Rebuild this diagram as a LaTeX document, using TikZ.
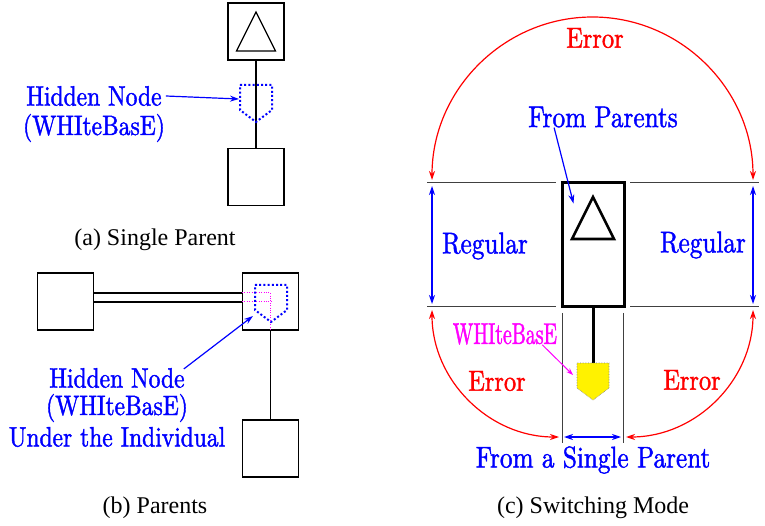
\documentclass[tikz,border=0pt]{standalone}
\usepackage{fontspec}
\setmainfont{Liberation Serif}
\newfontfamily\labelFont[FakeStretch=0.84,FakeBold=1.4]{lmroman10-regular.otf}
\newfontfamily\tagFont[FakeStretch=0.66,FakeBold=1.4]{lmroman10-regular.otf}
\usepackage{tikz}
\usetikzlibrary{positioning,arrows.meta}
\definecolor{guideGray}{RGB}{64,64,64}
\definecolor{tagMagenta}{RGB}{255,0,255}
\tikzstyle{panel} = [x = 1pt, y = -1pt]
\tikzstyle{personBox} = [draw=black, line width=1.2pt, minimum width=56pt, minimum height=57pt, inner sep=0pt]
\tikzstyle{childLine} = [draw=black, line width=1.2pt]
\tikzstyle{hiddenLine} = [draw=blue, line width=2pt, dash pattern=on 2pt off 2.2pt]
\tikzstyle{bridgeLine} = [draw=tagMagenta, line width=1pt, dash pattern=on 1pt off 1.4pt]
\tikzstyle{guideLine} = [draw=guideGray, line width=1pt]
\tikzstyle{blueArrow} = [draw=blue, line width=1.2pt, -{Stealth[length=9pt,width=6pt]}]
\tikzstyle{blueBoth} = [draw=blue, line width=1.2pt, {Stealth[length=9pt,width=6pt]}-{Stealth[length=9pt,width=6pt]}]
\tikzstyle{redBoth} = [draw=red, line width=1.2pt, {Stealth[length=9pt,width=6pt]}-{Stealth[length=9pt,width=6pt]}]
\tikzstyle{blueText} = [text=blue, font=\labelFont\fontsize{28}{32}\selectfont, inner sep=2pt]
\tikzstyle{redText} = [text=red, font=\labelFont\fontsize{29}{32}\selectfont, inner sep=2pt]
\tikzstyle{tagText} = [text=tagMagenta, font=\tagFont\fontsize{30}{32}\selectfont, inner sep=2pt]
\tikzstyle{caption} = [font=\fontsize{24}{28}\selectfont, inner sep=0pt]
% triangle mark inside a box, #1 = box, #2/#3 = half width / half height
\newcommand{\triangleMark}[4]{\draw [line width=#4, line join=miter, shift={(#1)}] (-#2,#3) -- (0,-#3) -- (#2,#3) -- cycle;}
% house shaped marker hanging from (#1,#2)
\newcommand{\houseMark}[3]{\draw [#3, shift={(#1,#2)}] (-16,0) -- (16,0) -- (16,25) -- (0,37) -- (-16,25) -- cycle;}

\begin{document}
\begin{tikzpicture}[panel]
\useasboundingbox (0,0) rectangle (765,526);

% (a) single parent
\node [personBox] (aTop) at (256,31.5) {};
\node [personBox] (aBottom) at (256,177) {};
\triangleMark{aTop.center}{19.5}{19.5}{1.2pt}
\draw [childLine] (aTop.south) -- (aBottom.north);
\houseMark{256}{85}{hiddenLine}
\coordinate (aHidden) at (239,99);
\node [blueText] (aName) at (94,96) {Hidden Node};
\node [blueText] (aTag) at (94,128) {(WHIteBasE)};
\draw [blueArrow] ([xshift=2pt]aName.east) -- (aHidden);
\node [caption] (aCaption) at (155,240) {(a) Single Parent};

% (b) parents
\node [personBox] (bLeft) at (65.5,301.5) {};
\node [personBox] (bRight) at (270.5,301.5) {};
\node [personBox] (bBottom) at (270.5,448.5) {};
\draw [childLine, double=white, double distance=7.8pt] ([yshift=4pt]bLeft.east) -- ([yshift=4pt]bRight.west);
\draw [bridgeLine] ([yshift=8.5pt]bRight.west) -| (bRight.south);
\draw [bridgeLine] ([yshift=-0.5pt]bRight.west) -- ++(29,0);
\draw [childLine] (bRight.south) -- (bBottom.north);
\houseMark{271}{285}{hiddenLine}
\coordinate (bHidden) at (253,316);
\node [blueText] (bName) at (117,378) {Hidden Node};
\node [blueText] (bTag) at (117,408) {(WHIteBasE)};
\node [blueText] (bUnder) at (117,437) {Under the Individual};
\draw [blueArrow] ([xshift=-3pt,yshift=-3pt]bName.north east) -- (bHidden);
\node [caption] (bCaption) at (155,508) {(b) Parents};

% (c) switching mode
\node [personBox, line width=3pt, minimum width=62pt, minimum height=124pt] (cBox) at (593,245) {};
\triangleMark{593,218}{21}{21}{2.6pt}
\foreach \y in {183,307} {
  \draw [guideLine] (427,\y) -- (556,\y);
  \draw [guideLine] (630,\y) -- (759,\y);
}
\foreach \x in {562,623}
  \draw [guideLine] (\x,313) -- (\x,443);
\draw [childLine, line width=3pt] (cBox.south) -- (593,363);
\houseMark{593}{363}{fill=yellow, draw=gray, line width=0.6pt, densely dotted}

\draw [blueBoth] (432,186) -- (432,304);
\draw [blueBoth] (753,186) -- (753,304);
\node [blueText, font=\labelFont\fontsize{30}{32}\selectfont] (cRegLeft) at (485,246) {Regular};
\node [blueText, font=\labelFont\fontsize{30}{32}\selectfont] (cRegRight) at (703,245) {Regular};

\draw [redBoth] (432,180) arc [start angle=180, end angle=0, x radius=160.5pt, y radius=163pt];
\draw [redBoth] (432,310) arc [start angle=180, end angle=270, x radius=127pt, y radius=127pt];
\draw [redBoth] (753,310) arc [start angle=0, end angle=-90, x radius=127pt, y radius=127pt];
\node [redText] (cErrTop) at (595,38) {Error};
\node [redText] (cErrLeft) at (497,381) {Error};
\node [redText] (cErrRight) at (692,380) {Error};

\node [blueText, font=\labelFont\fontsize{30}{32}\selectfont] (cParents) at (603,117) {From Parents};
\draw [blueArrow] ([xshift=28pt,yshift=2pt]cParents.south west) -- ([xshift=13pt,yshift=-22pt]cBox.north west);
\node [tagText] (cTag) at (505,334) {WHIteBasE};
\draw [draw=tagMagenta, line width=1pt, -{Stealth[length=7pt,width=5pt]}] ([xshift=-17pt,yshift=2pt]cTag.south east) -- (573,375);
\draw [blueBoth] (564,437) -- (621,437);
\node [blueText, font=\labelFont\fontsize{30}{32}\selectfont] (cSingle) at (593,460) {From a Single Parent};
\node [caption] (cCaption) at (593,508) {(c) Switching Mode};
\end{tikzpicture}
\end{document}
